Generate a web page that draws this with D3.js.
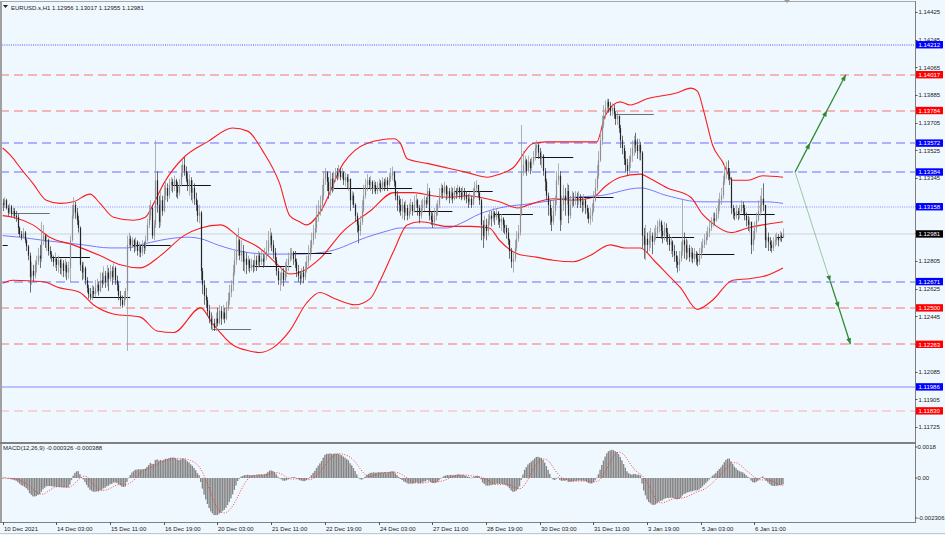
<!DOCTYPE html>
<html><head><meta charset="utf-8">
<script src="https://cdn.jsdelivr.net/npm/d3@7"></script>
<style>
html,body{margin:0;padding:0;background:#f0f8ff;}
svg{display:block;font-family:"Liberation Sans",Arial,sans-serif;}
</style></head><body>
<svg id="c" width="945" height="535"></svg>
<script>
// ---------------- DATA ----------------
const symbol = "EURUSD.s,H1";
const firstOpen = 1.1318;
const closes = [
1.1317,1.1320,1.1315,1.1312,1.1316,1.1311,1.1313,1.1310,1.1309,1.1302,
1.1298,1.1296,1.1299,1.1294,1.1290,1.1284,1.1270,1.1274,1.1271,1.1278,
1.1280,1.1284,1.1282,1.1294,1.1297,1.1293,1.1294,1.1287,1.1285,1.1283,
1.1280,1.1282,1.1278,1.1281,1.1276,1.1279,1.1274,1.1278,1.1273,1.1276,
1.1294,1.1310,1.1317,1.1312,1.1307,1.1302,1.1278,1.1273,1.1276,1.1268,
1.1263,1.1259,1.1257,1.1261,1.1259,1.1263,1.1265,1.1261,1.1268,1.1266,
1.1271,1.1267,1.1273,1.1269,1.1274,1.1270,1.1276,1.1268,1.1265,1.1258,
1.1255,1.1252,1.1257,1.1261,1.1291,1.1295,1.1291,1.1294,1.1290,1.1293,
1.1287,1.1290,1.1286,1.1291,1.1289,1.1294,1.1304,1.1310,1.1315,1.1297,
1.1304,1.1333,1.1317,1.1306,1.1320,1.1313,1.1323,1.1328,1.1323,1.1330,
1.1332,1.1330,1.1333,1.1329,1.1325,1.1330,1.1338,1.1343,1.1339,1.1334,
1.1330,1.1333,1.1325,1.1328,1.1321,1.1317,1.1310,1.1312,1.1274,1.1265,
1.1258,1.1255,1.1248,1.1243,1.1239,1.1240,1.1237,1.1243,1.1240,1.1248,
1.1243,1.1247,1.1243,1.1250,1.1255,1.1260,1.1265,1.1273,1.1281,1.1287,
1.1294,1.1284,1.1287,1.1280,1.1282,1.1278,1.1281,1.1276,1.1278,1.1277,
1.1281,1.1278,1.1284,1.1280,1.1282,1.1280,1.1284,1.1287,1.1294,1.1297,
1.1291,1.1286,1.1281,1.1274,1.1268,1.1269,1.1273,1.1268,1.1274,1.1278,
1.1282,1.1284,1.1286,1.1282,1.1280,1.1274,1.1271,1.1269,1.1273,1.1270,
1.1274,1.1280,1.1284,1.1289,1.1294,1.1299,1.1302,1.1310,1.1313,1.1317,
1.1323,1.1334,1.1338,1.1332,1.1326,1.1334,1.1328,1.1334,1.1338,1.1336,
1.1339,1.1335,1.1338,1.1333,1.1335,1.1332,1.1334,1.1320,1.1323,1.1317,
1.1310,1.1304,1.1300,1.1306,1.1313,1.1323,1.1330,1.1333,1.1330,1.1332,
1.1328,1.1330,1.1326,1.1329,1.1331,1.1328,1.1332,1.1329,1.1333,1.1330,
1.1334,1.1336,1.1338,1.1332,1.1323,1.1320,1.1317,1.1313,1.1317,1.1312,
1.1315,1.1310,1.1313,1.1317,1.1313,1.1317,1.1320,1.1315,1.1310,1.1315,
1.1317,1.1320,1.1318,1.1326,1.1310,1.1307,1.1306,1.1310,1.1313,1.1317,
1.1323,1.1328,1.1325,1.1329,1.1324,1.1326,1.1322,1.1325,1.1321,1.1326,
1.1324,1.1328,1.1325,1.1322,1.1326,1.1323,1.1321,1.1319,1.1321,1.1317,
1.1323,1.1328,1.1330,1.1325,1.1320,1.1304,1.1297,1.1304,1.1300,1.1307,
1.1310,1.1308,1.1312,1.1309,1.1312,1.1308,1.1306,1.1308,1.1304,1.1302,
1.1299,1.1294,1.1287,1.1280,1.1282,1.1289,1.1295,1.1299,1.1310,1.1339,
1.1343,1.1346,1.1339,1.1345,1.1341,1.1345,1.1348,1.1354,1.1356,1.1351,
1.1347,1.1349,1.1339,1.1332,1.1323,1.1317,1.1310,1.1306,1.1313,1.1320,
1.1333,1.1336,1.1307,1.1317,1.1323,1.1320,1.1326,1.1310,1.1317,1.1321,
1.1320,1.1322,1.1320,1.1322,1.1319,1.1317,1.1320,1.1315,1.1312,1.1308,
1.1310,1.1313,1.1320,1.1328,1.1336,1.1346,1.1359,1.1369,1.1375,1.1380,
1.1384,1.1381,1.1378,1.1380,1.1376,1.1373,1.1375,1.1367,1.1359,1.1354,
1.1347,1.1343,1.1339,1.1345,1.1349,1.1354,1.1359,1.1356,1.1352,1.1356,
1.1351,1.1297,1.1291,1.1295,1.1291,1.1294,1.1297,1.1293,1.1296,1.1299,
1.1303,1.1306,1.1300,1.1297,1.1302,1.1299,1.1295,1.1291,1.1293,1.1287,
1.1284,1.1280,1.1278,1.1282,1.1287,1.1294,1.1291,1.1286,1.1289,1.1283,
1.1286,1.1282,1.1285,1.1282,1.1280,1.1284,1.1289,1.1291,1.1294,1.1296,
1.1299,1.1302,1.1306,1.1308,1.1307,1.1311,1.1317,1.1320,1.1323,1.1332,
1.1338,1.1341,1.1338,1.1334,1.1315,1.1312,1.1310,1.1313,1.1311,1.1313,
1.1317,1.1315,1.1310,1.1307,1.1304,1.1306,1.1291,1.1295,1.1302,1.1307,
1.1313,1.1317,1.1321,1.1317,1.1294,1.1296,1.1293,1.1291,1.1289,1.1293,
1.1294,1.1296,1.1294,1.1297,1.12956,1.12981];
const highs = [
1.1321,1.1322,1.1321,1.1317,1.1318,1.1317,1.1315,1.1315,1.1313,1.1311,
1.1303,1.1300,1.1302,1.1300,1.1295,1.1291,1.1286,1.1280,1.1278,1.1281,
1.1284,1.1289,1.1291,1.1306,1.1304,1.1298,1.1297,1.1295,1.1290,1.1287,
1.1284,1.1286,1.1283,1.1284,1.1282,1.1282,1.1281,1.1282,1.1280,1.1280,
1.1297,1.1317,1.1322,1.1319,1.1315,1.1310,1.1303,1.1280,1.1280,1.1277,
1.1270,1.1265,1.1263,1.1265,1.1264,1.1268,1.1269,1.1267,1.1273,1.1273,
1.1277,1.1274,1.1278,1.1276,1.1278,1.1277,1.1279,1.1277,1.1271,1.1267,
1.1261,1.1258,1.1261,1.1263,1.1297,1.1299,1.1297,1.1296,1.1295,1.1296,
1.1294,1.1293,1.1291,1.1294,1.1293,1.1297,1.1308,1.1317,1.1320,1.1317,
1.1307,1.1359,1.1339,1.1323,1.1326,1.1323,1.1330,1.1333,1.1331,1.1334,
1.1335,1.1334,1.1336,1.1334,1.1332,1.1334,1.1343,1.1346,1.1348,1.1342,
1.1338,1.1337,1.1335,1.1333,1.1331,1.1325,1.1320,1.1317,1.1313,1.1276,
1.1268,1.1263,1.1257,1.1252,1.1247,1.1245,1.1243,1.1247,1.1250,1.1252,
1.1251,1.1252,1.1250,1.1254,1.1260,1.1265,1.1268,1.1278,1.1287,1.1297,
1.1302,1.1295,1.1294,1.1291,1.1287,1.1286,1.1284,1.1282,1.1282,1.1281,
1.1285,1.1284,1.1287,1.1286,1.1287,1.1285,1.1289,1.1294,1.1300,1.1302,
1.1299,1.1294,1.1289,1.1283,1.1276,1.1273,1.1276,1.1276,1.1280,1.1282,
1.1286,1.1289,1.1289,1.1287,1.1287,1.1282,1.1278,1.1274,1.1276,1.1277,
1.1280,1.1284,1.1291,1.1294,1.1299,1.1304,1.1308,1.1317,1.1320,1.1323,
1.1330,1.1339,1.1341,1.1339,1.1335,1.1338,1.1338,1.1339,1.1341,1.1341,
1.1343,1.1341,1.1341,1.1339,1.1338,1.1337,1.1337,1.1334,1.1326,1.1325,
1.1318,1.1312,1.1307,1.1310,1.1320,1.1330,1.1334,1.1337,1.1335,1.1336,
1.1333,1.1333,1.1332,1.1332,1.1334,1.1333,1.1335,1.1334,1.1335,1.1335,
1.1338,1.1341,1.1342,1.1339,1.1333,1.1326,1.1323,1.1321,1.1321,1.1319,
1.1320,1.1317,1.1318,1.1321,1.1319,1.1323,1.1324,1.1321,1.1317,1.1320,
1.1321,1.1323,1.1322,1.1331,1.1328,1.1313,1.1312,1.1315,1.1318,1.1320,
1.1328,1.1331,1.1330,1.1332,1.1330,1.1329,1.1328,1.1329,1.1328,1.1329,
1.1328,1.1330,1.1329,1.1328,1.1329,1.1328,1.1326,1.1324,1.1325,1.1323,
1.1328,1.1332,1.1333,1.1330,1.1326,1.1321,1.1307,1.1310,1.1308,1.1311,
1.1313,1.1313,1.1315,1.1313,1.1315,1.1313,1.1311,1.1311,1.1309,1.1307,
1.1304,1.1302,1.1295,1.1289,1.1287,1.1294,1.1300,1.1304,1.1317,1.1369,
1.1352,1.1349,1.1347,1.1349,1.1347,1.1348,1.1352,1.1358,1.1359,1.1357,
1.1354,1.1352,1.1350,1.1341,1.1334,1.1325,1.1320,1.1315,1.1320,1.1323,
1.1339,1.1344,1.1339,1.1323,1.1330,1.1328,1.1331,1.1330,1.1323,1.1326,
1.1325,1.1326,1.1325,1.1326,1.1324,1.1322,1.1324,1.1321,1.1317,1.1315,
1.1315,1.1318,1.1326,1.1334,1.1343,1.1352,1.1365,1.1375,1.1382,1.1385,
1.1386,1.1386,1.1384,1.1383,1.1382,1.1378,1.1378,1.1375,1.1369,1.1362,
1.1356,1.1352,1.1347,1.1349,1.1354,1.1359,1.1362,1.1364,1.1360,1.1360,
1.1358,1.1352,1.1302,1.1304,1.1299,1.1300,1.1302,1.1299,1.1302,1.1304,
1.1307,1.1308,1.1307,1.1304,1.1306,1.1305,1.1302,1.1298,1.1296,1.1294,
1.1291,1.1287,1.1284,1.1287,1.1293,1.1321,1.1299,1.1295,1.1294,1.1291,
1.1290,1.1289,1.1289,1.1287,1.1286,1.1289,1.1293,1.1295,1.1298,1.1300,
1.1303,1.1306,1.1309,1.1312,1.1312,1.1315,1.1321,1.1325,1.1328,1.1336,
1.1343,1.1345,1.1346,1.1341,1.1335,1.1317,1.1315,1.1317,1.1315,1.1317,
1.1320,1.1319,1.1317,1.1312,1.1310,1.1309,1.1306,1.1300,1.1306,1.1312,
1.1320,1.1323,1.1328,1.1331,1.1317,1.1302,1.1299,1.1296,1.1294,1.1296,
1.1298,1.1299,1.1298,1.1300,1.1299,1.13017];
const lows = [
1.1313,1.1315,1.1314,1.1310,1.1311,1.1309,1.1309,1.1308,1.1306,1.1298,
1.1296,1.1294,1.1295,1.1292,1.1287,1.1281,1.1260,1.1265,1.1267,1.1269,
1.1273,1.1278,1.1276,1.1280,1.1291,1.1289,1.1287,1.1284,1.1282,1.1280,
1.1277,1.1276,1.1274,1.1273,1.1272,1.1271,1.1270,1.1270,1.1268,1.1269,
1.1267,1.1293,1.1308,1.1308,1.1304,1.1299,1.1274,1.1268,1.1269,1.1265,
1.1260,1.1256,1.1255,1.1255,1.1257,1.1257,1.1260,1.1258,1.1260,1.1263,
1.1265,1.1263,1.1264,1.1261,1.1267,1.1265,1.1268,1.1265,1.1261,1.1255,
1.1251,1.1250,1.1251,1.1255,1.1222,1.1289,1.1287,1.1289,1.1286,1.1287,
1.1284,1.1283,1.1283,1.1284,1.1285,1.1287,1.1293,1.1302,1.1307,1.1295,
1.1294,1.1302,1.1312,1.1302,1.1303,1.1310,1.1312,1.1320,1.1319,1.1321,
1.1326,1.1325,1.1326,1.1322,1.1321,1.1323,1.1329,1.1335,1.1336,1.1332,
1.1326,1.1323,1.1320,1.1318,1.1317,1.1313,1.1306,1.1305,1.1268,1.1259,
1.1252,1.1250,1.1245,1.1240,1.1236,1.1235,1.1235,1.1235,1.1238,1.1239,
1.1239,1.1242,1.1240,1.1242,1.1248,1.1252,1.1257,1.1261,1.1271,1.1278,
1.1284,1.1281,1.1280,1.1274,1.1273,1.1272,1.1274,1.1273,1.1274,1.1273,
1.1274,1.1274,1.1276,1.1277,1.1278,1.1276,1.1277,1.1281,1.1284,1.1289,
1.1287,1.1282,1.1278,1.1271,1.1265,1.1261,1.1265,1.1264,1.1267,1.1270,
1.1274,1.1280,1.1281,1.1278,1.1276,1.1270,1.1267,1.1265,1.1267,1.1266,
1.1268,1.1273,1.1277,1.1281,1.1286,1.1291,1.1295,1.1299,1.1306,1.1310,
1.1313,1.1320,1.1330,1.1326,1.1321,1.1323,1.1325,1.1326,1.1332,1.1333,
1.1334,1.1333,1.1334,1.1330,1.1329,1.1328,1.1326,1.1313,1.1317,1.1315,
1.1306,1.1299,1.1292,1.1297,1.1304,1.1312,1.1321,1.1326,1.1328,1.1326,
1.1324,1.1325,1.1324,1.1324,1.1326,1.1325,1.1326,1.1326,1.1328,1.1326,
1.1329,1.1332,1.1333,1.1329,1.1320,1.1313,1.1312,1.1310,1.1308,1.1307,
1.1310,1.1307,1.1308,1.1311,1.1310,1.1312,1.1315,1.1310,1.1305,1.1308,
1.1312,1.1313,1.1315,1.1317,1.1307,1.1304,1.1302,1.1303,1.1307,1.1310,
1.1315,1.1321,1.1321,1.1323,1.1320,1.1321,1.1318,1.1320,1.1318,1.1320,
1.1321,1.1322,1.1321,1.1320,1.1321,1.1320,1.1318,1.1315,1.1317,1.1315,
1.1317,1.1321,1.1325,1.1322,1.1317,1.1294,1.1289,1.1295,1.1294,1.1297,
1.1304,1.1303,1.1306,1.1304,1.1307,1.1304,1.1302,1.1300,1.1299,1.1298,
1.1295,1.1291,1.1282,1.1276,1.1273,1.1280,1.1287,1.1293,1.1297,1.1310,
1.1336,1.1338,1.1336,1.1338,1.1337,1.1339,1.1343,1.1346,1.1349,1.1347,
1.1343,1.1341,1.1336,1.1326,1.1320,1.1310,1.1304,1.1300,1.1304,1.1310,
1.1317,1.1330,1.1300,1.1304,1.1313,1.1310,1.1317,1.1305,1.1308,1.1315,
1.1316,1.1317,1.1315,1.1317,1.1315,1.1312,1.1313,1.1311,1.1308,1.1305,
1.1304,1.1306,1.1312,1.1319,1.1326,1.1334,1.1345,1.1356,1.1367,1.1373,
1.1378,1.1377,1.1375,1.1375,1.1373,1.1369,1.1369,1.1364,1.1354,1.1350,
1.1343,1.1338,1.1336,1.1337,1.1341,1.1345,1.1349,1.1351,1.1347,1.1346,
1.1346,1.1289,1.1282,1.1281,1.1286,1.1287,1.1289,1.1285,1.1291,1.1294,
1.1296,1.1299,1.1295,1.1292,1.1294,1.1293,1.1291,1.1287,1.1285,1.1283,
1.1280,1.1276,1.1273,1.1274,1.1280,1.1284,1.1282,1.1281,1.1282,1.1280,
1.1280,1.1279,1.1280,1.1278,1.1277,1.1278,1.1282,1.1286,1.1289,1.1291,
1.1294,1.1296,1.1300,1.1303,1.1304,1.1306,1.1308,1.1313,1.1317,1.1321,
1.1330,1.1334,1.1333,1.1330,1.1311,1.1308,1.1307,1.1308,1.1307,1.1308,
1.1312,1.1311,1.1307,1.1303,1.1300,1.1299,1.1285,1.1287,1.1294,1.1299,
1.1306,1.1310,1.1312,1.1313,1.1289,1.1289,1.1287,1.1287,1.1286,1.1287,
1.1290,1.1291,1.1290,1.1293,1.1293,1.12955];

// Bollinger band / moving average readings (bar index, price)
const upperBars = [0,4,12,18,26,34,42,52,58,66,78,85,90,96,108,122,137,146,155,165,171,177,181,189,203,217,233,237,241,253,265,277,289,296,304,316,324,336,354,359,368,374,384,402,410,414,418,423,429,435,444,453,465];
const upperVals = [1.1354,1.1350,1.1339,1.1331,1.1320,1.1318,1.1319,1.1324,1.1318,1.1309,1.1307,1.1309,1.1318,1.1331,1.1348,1.1358,1.1367,1.1365,1.1352,1.1331,1.1310,1.1306,1.1304,1.1312,1.1344,1.1357,1.1360,1.1357,1.1347,1.1344,1.1341,1.1338,1.1335,1.1337,1.1341,1.1357,1.1358,1.1358,1.1358,1.1375,1.1384,1.1382,1.1386,1.1390,1.1393,1.1391,1.1377,1.1356,1.1345,1.1333,1.1333,1.1336,1.1335];
const middleBars = [0,6,18,28,42,58,70,82,94,108,118,130,141,153,163,171,179,189,203,219,233,245,256,267,277,284,296,307,316,328,340,352,359,368,380,386,396,410,417,423,434,444,453,465];
const middleVals = [1.1310,1.1309,1.1304,1.1296,1.1291,1.1284,1.1278,1.1276,1.1284,1.1297,1.1302,1.1304,1.1296,1.1289,1.1279,1.1272,1.1274,1.1282,1.1300,1.1313,1.1325,1.1325,1.1323,1.1322,1.1323,1.1322,1.1319,1.1315,1.1318,1.1321,1.1320,1.1322,1.1329,1.1335,1.1337,1.1334,1.1328,1.1322,1.1311,1.1305,1.1299,1.1302,1.1304,1.1306];
const lowerBars = [0,6,24,34,46,54,66,82,92,102,118,125,137,147,153,161,171,181,189,198,210,219,225,233,241,249,265,279,290,296,307,318,328,340,350,362,371,380,388,396,404,414,423,435,445,455,465];
const lowerVals = [1.1266,1.1268,1.1267,1.1263,1.1260,1.1252,1.1246,1.1244,1.1235,1.1234,1.1250,1.1240,1.1226,1.1222,1.1221,1.1224,1.1235,1.1253,1.1260,1.1256,1.1252,1.1256,1.1268,1.1287,1.1304,1.1306,1.1303,1.1303,1.1302,1.1294,1.1285,1.1283,1.1281,1.1280,1.1284,1.1291,1.1289,1.1289,1.1281,1.1272,1.1263,1.1249,1.1255,1.1268,1.1269,1.1271,1.1276];
const maBars = [0,10,24,48,64,74,82,94,110,118,128,137,158,177,195,217,229,237,265,273,284,296,316,328,340,356,380,396,416,434,455,465];
const maVals = [1.1297,1.1296,1.1294,1.1291,1.1289,1.1289,1.1291,1.1294,1.1296,1.1295,1.1291,1.1288,1.1285,1.1285,1.1287,1.1296,1.1300,1.1302,1.1302,1.1305,1.1311,1.1315,1.1318,1.1320,1.1322,1.1323,1.1328,1.1323,1.1319,1.1319,1.1319,1.1318];

// daily open lines
const dayStart = [0,5,29,53,77,101,125,149,173,197,221,245,269,293,317,341,365,389,413,437,461];
const dayEnd   = [3,28,52,76,100,124,148,172,196,220,244,268,292,316,340,364,388,412,436,460,465];
const dayOpen  = [1.1291,1.1312,1.1283,1.1257,1.1291,1.1330,1.1236,1.1277,1.1286,1.1328,1.1328,1.1313,1.1326,1.1311,1.1348,1.1322,1.1376,1.1296,1.1285,1.1311,1.1296];

// horizontal levels
const redLevels = [1.14017,1.13784,1.12500,1.12263,1.11830];
const blueDashLevels = [1.13572,1.13384,1.12671];
const blueDotLevels = [1.14212,1.13158];
const blueSolidLevels = [1.11986];

// projection arrows (bar index, price)
const upArrowBars = [472.2,481.1,491.2,502.4];
const upArrowPrices = [1.13384,1.13572,1.13784,1.14017];
const downArrowBars = [472.2,493.2,498.3,505.2];
const downArrowPrices = [1.13384,1.12671,1.12500,1.12263];

const priceTicks = [1.14425,1.14245,1.14065,1.13885,1.13705,1.13525,1.13345,1.13165,1.12985,1.12805,1.12625,1.12445,1.12265,1.12085,1.11905,1.11725];
const timeLabels = ["10 Dec 2021","14 Dec 03:00","15 Dec 11:00","16 Dec 19:00","20 Dec 03:00","21 Dec 11:00","22 Dec 19:00","24 Dec 03:00","27 Dec 11:00","28 Dec 19:00","30 Dec 03:00","31 Dec 11:00","3 Jan 19:00","5 Jan 03:00","6 Jan 11:00"];
const timeLabelBars = [0,32,64,96,128,160,192,224,256,288,320,352,384,416,448];
const macdTitle = "MACD(12,26,9) -0.000326 -0.000388";
const macdTicks = [0.0018, 0, -0.002306];
const macdTickLabels = ["0.0018","0.00","-0.002306"];

// ---------------- DRAW ----------------
const svg = d3.select("#c");
const FONT = 6;
const AX = 915;
const x = d3.scaleLinear().domain([0, closes.length - 1]).range([2.7, 783]);
const y = d3.scaleLinear().domain([1.11725, 1.14425]).range([427, 12]);
const ym = d3.scaleLinear().domain([0, 0.0018]).range([478, 447]);

svg.append("rect").attr("width",945).attr("height",535).attr("fill","#f0f8ff");
const defs = svg.append("defs");
defs.append("clipPath").attr("id","cm").append("rect").attr("x",0).attr("y",2).attr("width",AX).attr("height",440);
defs.append("clipPath").attr("id","cd").append("rect").attr("x",0).attr("y",444).attr("width",AX).attr("height",77);

const main = svg.append("g").attr("clip-path","url(#cm)");
const hy = v => Math.round(y(v)) + 0.5;

// levels (soft 1px lines)
function hline(v, color, dash) {
  const yy = Math.round(y(v));
  main.append("line").attr("x1",0).attr("x2",AX).attr("y1",yy).attr("y2",yy)
    .attr("stroke",color).attr("stroke-width",1.1).attr("stroke-dasharray",dash||null);
}
redLevels.forEach(v => hline(v, v < 1.12 ? "#ffabab" : "#ff6f6f", "9,5"));
blueDashLevels.forEach(v => hline(v, "#6b6bff", "9,5"));
blueDotLevels.forEach((v,i) => hline(v, i===0 ? "#5252ff" : "#8e8eff", "1,1.2"));
blueSolidLevels.forEach(v => hline(v, "#8888ff", null));
const lastClose = closes[closes.length-1];
hline(lastClose, "#cdd1d5", null);

// bands
const band = (bars, vals) => d3.zip(bars, vals);
const lineGen = d3.line().x(d => x(d[0])).y(d => y(d[1])).curve(d3.curveMonotoneX);
main.append("path").attr("d", lineGen(band(maBars, maVals))).attr("fill","none").attr("stroke","#7878ff").attr("stroke-width",1);
[[upperBars,upperVals],[middleBars,middleVals],[lowerBars,lowerVals]].forEach(([b,v]) => {
  main.append("path").attr("d", lineGen(band(b, v))).attr("fill","none").attr("stroke","#ff1a1a").attr("stroke-width",1.1);
});

// daily open lines
dayStart.forEach((s,i) => {
  const gray = (i===1 || i===6 || i===16);
  main.append("line").attr("x1",x(s)).attr("x2",x(dayEnd[i])).attr("y1",hy(dayOpen[i])).attr("y2",hy(dayOpen[i]))
    .attr("stroke", gray ? "#6f6f6f" : "#111").attr("stroke-width",1);
});

// candles
const cg = main.append("g");
closes.forEach((c,i) => {
  const o = i===0 ? firstOpen : closes[i-1];
  const h = Math.max(highs[i], o, c), l = Math.min(lows[i], o, c);
  const bull = c >= o;
  const col = bull ? "#8e8e8e" : "#262626";
  const cx = Math.round(x(i)) + 0.5;
  cg.append("line").attr("x1",cx).attr("x2",cx).attr("y1",y(h)).attr("y2",y(l)).attr("stroke",bull?"#9c9c9c":"#4a4a4a").attr("stroke-width",0.8);
  const top = Math.min(y(o),y(c)), hh = Math.max(1, Math.abs(y(o)-y(c)));
  cg.append("rect").attr("x",cx-0.6).attr("y",top).attr("width",1.2).attr("height",hh).attr("fill",col);
});

// arrows
function arrowPath(bars, prices, fadeFirst) {
  const pts = bars.map((b,i) => [x(b), y(prices[i])]);
  for (let i=1;i<pts.length;i++){
    const [x0,y0]=pts[i-1],[x1,y1]=pts[i];
    svg.append("line").attr("x1",x0).attr("y1",y0).attr("x2",x1).attr("y2",y1)
      .attr("stroke","#2f8a2f").attr("stroke-width",(fadeFirst&&i===1)?0.8:1.3).attr("opacity",(fadeFirst&&i===1)?0.55:1);
    const a=Math.atan2(y1-y0,x1-x0), L=6, Wd=2.4;
    const p1=[x1-L*Math.cos(a)+Wd*Math.sin(a), y1-L*Math.sin(a)-Wd*Math.cos(a)];
    const p2=[x1-L*Math.cos(a)-Wd*Math.sin(a), y1-L*Math.sin(a)+Wd*Math.cos(a)];
    svg.append("path").attr("d",`M${x1},${y1}L${p1[0]},${p1[1]}L${p2[0]},${p2[1]}Z`).attr("fill","#2f8a2f");
  }
}
arrowPath(upArrowBars, upArrowPrices, false);
arrowPath(downArrowBars, downArrowPrices, true);

// MACD (12,26,9) from closes
const k12=2/13, k26=2/27;
let e12=closes[0], e26=closes[0];
const macd=[];
closes.forEach((c,i)=>{ if(i>0){ e12+=k12*(c-e12); e26+=k26*(c-e26);} macd.push(e12-e26); });
const signal = macd.map((_,i)=> d3.mean(macd.slice(Math.max(0,i-8), i+1)));
const mg = svg.append("g").attr("clip-path","url(#cd)");
macd.forEach((v,i)=>{
  const cx = x(i) - 0.7;
  mg.append("rect").attr("x",cx).attr("y",Math.min(ym(v),ym(0))).attr("width",1.4)
    .attr("height",Math.max(0.5,Math.abs(ym(v)-ym(0)))).attr("fill","#858585");
});
mg.append("path").attr("d", d3.line().x((d,i)=>x(i)).y(d=>ym(d))(signal))
  .attr("fill","none").attr("stroke","#ff2a2a").attr("stroke-width",0.9).attr("stroke-dasharray","1,1.6");

// frame
svg.append("line").attr("x1",0).attr("x2",AX).attr("y1",1.5).attr("y2",1.5).attr("stroke","#a8a8a8");
svg.append("line").attr("x1",1).attr("x2",1).attr("y1",1).attr("y2",522).attr("stroke","#a0a0a0").attr("stroke-width",2);
svg.append("line").attr("x1",AX+0.5).attr("x2",AX+0.5).attr("y1",1).attr("y2",522).attr("stroke","#808080");
svg.append("line").attr("x1",0).attr("x2",AX).attr("y1",443).attr("y2",443).attr("stroke","#808080").attr("stroke-width",2);
svg.append("line").attr("x1",0).attr("x2",AX+1).attr("y1",522.5).attr("y2",522.5).attr("stroke","#808080");
svg.append("line").attr("x1",0).attr("x2",945).attr("y1",533.5).attr("y2",533.5).attr("stroke","#c4c8cc");

// shift marker
svg.append("path").attr("d",`M${x(465)+1},0L${x(465)+7},0L${x(465)+4},3Z`).attr("fill","#9a9a9a");

// price axis
const txt = (g,xx,yy,s,fill,anchor) => g.append("text").attr("x",xx).attr("y",yy).attr("font-size",FONT)
  .attr("fill",fill||"#222").attr("text-anchor",anchor||"start").text(s);
priceTicks.forEach(v=>{
  svg.append("line").attr("x1",AX).attr("x2",AX+2.5).attr("y1",hy(v)).attr("y2",hy(v)).attr("stroke","#555");
  txt(svg, 918.5, y(v)+2.2, v.toFixed(5));
});
function box(v, color){
  const yy = y(v);
  svg.append("rect").attr("x",916).attr("y",yy-3.7).attr("width",27).attr("height",7.4).attr("fill",color);
  txt(svg, 918.5, yy+2.2, v.toFixed(5), "#fff");
}
blueDotLevels.concat(blueDashLevels, blueSolidLevels).forEach(v=>box(v,"#0000ff"));
redLevels.forEach(v=>box(v,"#ff0000"));
box(lastClose,"#000");

// MACD axis
macdTicks.forEach((v,i)=>{
  const yy = v === macdTicks[2] ? 518 : ym(v);
  svg.append("line").attr("x1",AX).attr("x2",AX+2.5).attr("y1",yy).attr("y2",yy).attr("stroke","#555");
  txt(svg, 917.5, yy+2.2, macdTickLabels[i]);
});
txt(svg, 3, 449.5, macdTitle, "#222");

// time axis
timeLabelBars.forEach((b,i)=>{
  const xx = Math.round(x(b))+0.5;
  svg.append("line").attr("x1",xx).attr("x2",xx).attr("y1",522).attr("y2",525).attr("stroke","#555");
  txt(svg, xx+0.5, 530.5, timeLabels[i]);
});

// header
svg.append("path").attr("d","M3,5L8,5L5.5,8Z").attr("fill","#222");
const n = closes.length-1;
txt(svg, 11, 10, `${symbol}  ${closes[n-1].toFixed(5)} ${highs[n].toFixed(5)} ${lows[n].toFixed(5)} ${closes[n].toFixed(5)}`, "#222");
</script>
</body></html>
